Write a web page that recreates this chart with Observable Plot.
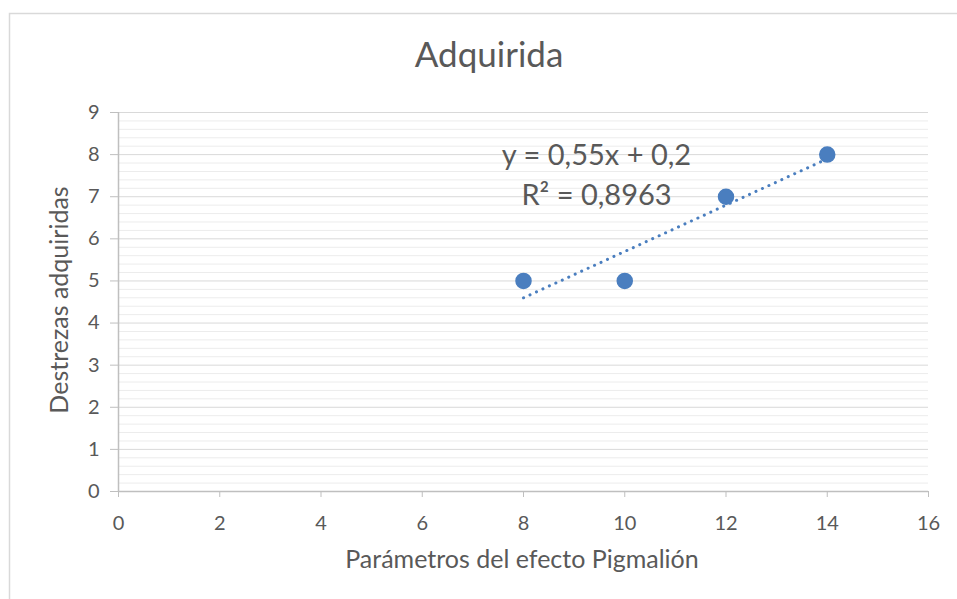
<!DOCTYPE html>
<html>
<head>
<meta charset="utf-8">
<script src="https://cdn.jsdelivr.net/npm/d3@7"></script>
<script src="https://cdn.jsdelivr.net/npm/@observablehq/plot@0.6"></script>
<style>
  html, body { margin: 0; padding: 0; background: #fff; }
  #chart { position: relative; width: 957px; height: 599px; }
</style>
</head>
<body>
<div id="chart"></div>
<script>
const parametros = [8, 10, 12, 14];
const destrezas = [5, 5, 7, 8];
const xTicks = [0, 2, 4, 6, 8, 10, 12, 14, 16];
const yTicks = [0, 1, 2, 3, 4, 5, 6, 7, 8, 9];
const yMinorTicks = d3.range(0, 45).map(i => i / 5).filter(v => !Number.isInteger(v));
const titleText = "Adquirida";
const xLabel = "Parámetros del efecto Pigmalión";
const yLabel = "Destrezas adquiridas";
const equationText = "y = 0,55x + 0,2\nR² = 0,8963";

const points = parametros.map((x, i) => ({x, y: destrezas[i]}));

const font = "Lato, 'Open Sans', sans-serif";
const textColor = "#595959";
const blue = "#4a7ebf";

const plot = Plot.plot({
  width: 957,
  height: 599,
  marginLeft: 118,
  marginRight: 29,
  marginTop: 112,
  marginBottom: 108,
  style: {fontFamily: font, fontSize: "20px", color: textColor, background: "#fff", overflow: "visible"},
  x: {domain: [0, 16], ticks: xTicks, label: null},
  y: {domain: [0, 9], ticks: yTicks, label: null},
  marks: [
    Plot.ruleY(yMinorTicks, {stroke: "#ececec", strokeWidth: 1}),
    Plot.ruleY(yTicks.filter(v => v > 0), {stroke: "#d9d9d9", strokeWidth: 1}),
    Plot.ruleY([0], {stroke: "#bfbfbf", strokeWidth: 1.5}),
    Plot.ruleX([0], {stroke: "#bfbfbf", strokeWidth: 1.5}),
    Plot.axisX(xTicks, {tickSize: 6, stroke: "#bfbfbf", tickPadding: 18, fontSize: 20, fill: textColor, tickFormat: d => d}),
    Plot.axisY(yTicks, {tickSize: 8, stroke: "#bfbfbf", tickPadding: 11, fontSize: 20, fill: textColor, tickFormat: d => d}),
    Plot.linearRegressionY(points, {x: "x", y: "y", ci: 0, stroke: blue, strokeWidth: 3, strokeDasharray: "0.1,7", strokeLinecap: "round"}),
    Plot.dot(points, {x: "x", y: "y", r: 7.5, fill: blue, stroke: blue}),
    Plot.text([equationText], {frameAnchor: "top-left", dx: 478, dy: 60, text: d => d, fontSize: 29, fill: textColor, textAnchor: "middle", lineAnchor: "middle", lineHeight: 1.35})
  ]
});

const svg = d3.select(plot);
svg.selectAll("g[aria-label='x-axis tick label'] text, g[aria-label='y-axis tick label'] text, g[aria-label='x-axis tick label'], g[aria-label='y-axis tick label']")
  .attr("font-size", 20);
// chart border
svg.append("path")
  .attr("d", "M9.5,599 L9.5,13.5 L957,13.5")
  .attr("fill", "none").attr("stroke", "#d9d9d9").attr("stroke-width", 1.5);
// title
svg.append("text").text(titleText)
  .attr("x", 489).attr("y", 58).attr("text-anchor", "middle").attr("dominant-baseline", "middle")
  .attr("font-size", 35).attr("fill", textColor).attr("font-family", font);
// x label
svg.append("text").text(xLabel)
  .attr("x", 522).attr("y", 562).attr("text-anchor", "middle").attr("dominant-baseline", "middle")
  .attr("font-size", 25).attr("fill", textColor).attr("font-family", font);
// y label
svg.append("text").text(yLabel)
  .attr("transform", "translate(62,300) rotate(-90)").attr("text-anchor", "middle").attr("dominant-baseline", "middle")
  .attr("font-size", 25).attr("fill", textColor).attr("font-family", font);

document.getElementById("chart").appendChild(plot);
</script>
</body>
</html>
